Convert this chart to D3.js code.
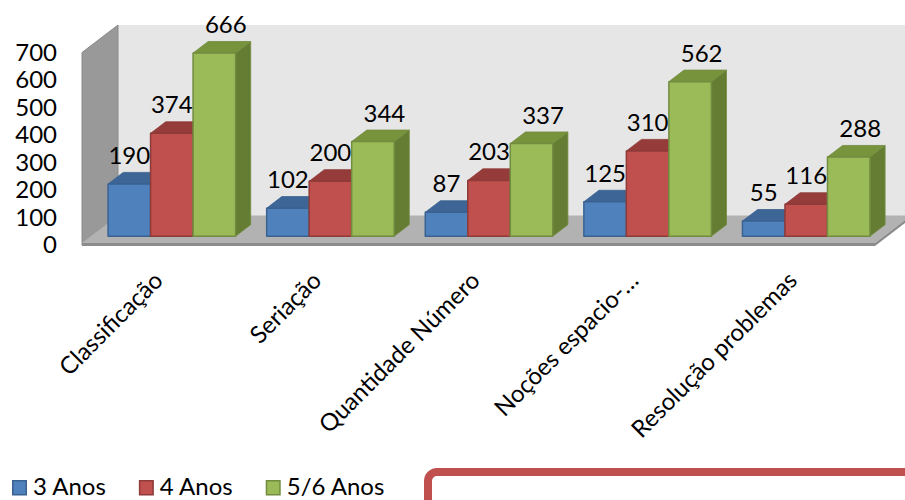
<!DOCTYPE html>
<html>
<head>
<meta charset="utf-8">
<script src="https://cdn.jsdelivr.net/npm/d3@7"></script>
<style>
  html, body { margin: 0; padding: 0; background: #ffffff; }
  svg { display: block; }
  text { font-family: Lato, "Open Sans", sans-serif; fill: #000; }
</style>
</head>
<body>
<svg id="chart" width="905" height="500"></svg>
<script>
// ---- data ----
const categories = ["Classificação", "Seriação", "Quantidade Número", "Noções espacio-…", "Resolução problemas"];
const seriesNames = ["3 Anos", "4 Anos", "5/6 Anos"];
const anos3 = [190, 102, 87, 125, 55];
const anos4 = [374, 200, 203, 310, 116];
const anos56 = [666, 344, 337, 562, 288];
const yTicks = [0, 100, 200, 300, 400, 500, 600, 700];

const seriesValues = [anos3, anos4, anos56];

// ---- styles ----
const frontCol = ["#4F81BD", "#C0504D", "#9BBB59"];
const topCol   = ["#3D6696", "#953B39", "#77933C"];
const sideCol  = ["#345A85", "#7F3230", "#647D33"];
const edgeCol  = ["#3A6291", "#8E3B39", "#728C40"];

const svg = d3.select("#chart");
const FS = 24;

// 3D projection: depth d in [0,1]
const DX = 36, DY = -27.5;
const proj = (x, y, d) => [x + DX * d, y + DY * d];

const x0 = d3.scaleBand().domain(categories).range([81, 874]).paddingInner(0.196).paddingOuter(0.098);
const x1 = d3.scaleBand().domain(d3.range(seriesNames.length)).range([0, x0.bandwidth()]);
const y = d3.scaleLinear().domain([0, 700]).range([245, 52.5]);

const line = d3.line();

// ---- walls ----
const left = 82, right = 875;
const yBot = y(0), yTop = y(700);
// back wall
svg.append("path")
  .attr("d", line([proj(left, yTop, 1), proj(right + 40, yTop, 1), proj(right + 40, yBot, 1), proj(left, yBot, 1)]) + "Z")
  .attr("fill", "#E6E6E6");
// side wall
svg.append("path")
  .attr("d", line([proj(left, yTop, 0), proj(left, yTop, 1), proj(left, yBot, 1), proj(left, yBot, 0)]) + "Z")
  .attr("fill", "#999999").attr("stroke", "#8a8a8a").attr("stroke-width", 1);
// floor
svg.append("path")
  .attr("d", line([proj(left, yBot - 2, 0), proj(left, yBot - 2, 1), proj(right, yBot - 2, 1), proj(right, yBot - 2, 0)]) + "Z")
  .attr("fill", "#B2B2B2");
// floor thickness (front + right)
svg.append("path")
  .attr("d", line([proj(left, yBot - 2, 0), proj(right, yBot - 2, 0), proj(right, yBot + 1, 0), proj(left, yBot + 1, 0)]) + "Z")
  .attr("fill", "#8C8C8C");
svg.append("path")
  .attr("d", line([proj(right, yBot - 2, 0), proj(right, yBot - 2, 1), proj(right, yBot + 1, 1), proj(right, yBot + 1, 0)]) + "Z")
  .attr("fill", "#8C8C8C");

// ---- bars ----
const dF = 0.32, dB = 0.74;
const bars = [];
categories.forEach((c, ci) => {
  seriesValues.forEach((vals, si) => bars.push({ cat: c, s: si, v: vals[ci] }));
});

const g = svg.append("g");
bars.forEach(b => {
  const xl = x0(b.cat) + x1(b.s), xr = xl + x1.bandwidth();
  const yt = y(b.v), yb = y(0);
  const P = (x, yy, d) => proj(x, yy, d);
  // side
  g.append("path")
    .attr("d", line([P(xr, yt, dF), P(xr, yt, dB), P(xr, yb, dB), P(xr, yb, dF)]) + "Z")
    .attr("fill", sideCol[b.s]).attr("stroke", edgeCol[b.s]).attr("stroke-width", 0.8).attr("stroke-linejoin", "round");
  // top
  g.append("path")
    .attr("d", line([P(xl, yt, dF), P(xl, yt, dB), P(xr, yt, dB), P(xr, yt, dF)]) + "Z")
    .attr("fill", topCol[b.s]).attr("stroke", edgeCol[b.s]).attr("stroke-width", 0.8).attr("stroke-linejoin", "round");
  // front
  g.append("path")
    .attr("d", line([P(xl, yt, dF), P(xr, yt, dF), P(xr, yb, dF), P(xl, yb, dF)]) + "Z")
    .attr("fill", frontCol[b.s]).attr("stroke", edgeCol[b.s]).attr("stroke-width", 1.5).attr("stroke-linejoin", "round");
});

// value labels
svg.append("g").selectAll("text").data(bars).join("text")
  .attr("x", b => proj(x0(b.cat) + x1(b.s) + x1.bandwidth() / 2, 0, dF)[0] + (b.s === 2 ? 11.5 : 0))
  .attr("y", b => proj(0, y(b.v), dF)[1] - 20)
  .attr("text-anchor", "middle")
  .attr("font-size", FS)
  .text(b => b.v);

// ---- y axis ----
const yAxis = svg.append("g").attr("transform", "translate(60,0)")
  .call(d3.axisLeft(y).tickValues(yTicks).tickSize(0).tickPadding(3));
yAxis.select(".domain").remove();
yAxis.selectAll("text").attr("font-size", FS).attr("font-family", "Lato, sans-serif").attr("fill", "#000");

// ---- x axis labels ----
const xAxis = svg.append("g").attr("transform", "translate(0,282)")
  .call(d3.axisBottom(x0).tickSize(0));
xAxis.select(".domain").remove();
xAxis.selectAll("text")
  .attr("x", 0).attr("y", 0).attr("dy", null)
  .attr("transform", "translate(4,0) rotate(-45)")
  .attr("text-anchor", "end")
  .attr("font-size", FS).attr("font-family", "Lato, sans-serif").attr("fill", "#000");

// ---- legend ----
const leg = svg.append("g");
let lx = 12;
seriesNames.forEach((n, i) => {
  leg.append("rect").attr("x", lx + 0.75).attr("y", 480.75).attr("width", 13.5).attr("height", 14)
    .attr("fill", frontCol[i]).attr("stroke", edgeCol[i]).attr("stroke-width", 1.5);
  const t = leg.append("text").attr("x", lx + 21).attr("y", 495).attr("font-size", FS).text(n);
  lx += 21 + t.node().getComputedTextLength() + 33;
});

// ---- red box ----
svg.append("rect")
  .attr("x", 428).attr("y", 472).attr("width", 600).attr("height", 120).attr("rx", 9)
  .attr("fill", "#ffffff").attr("stroke", "#C0504D").attr("stroke-width", 8);
</script>
</body>
</html>
